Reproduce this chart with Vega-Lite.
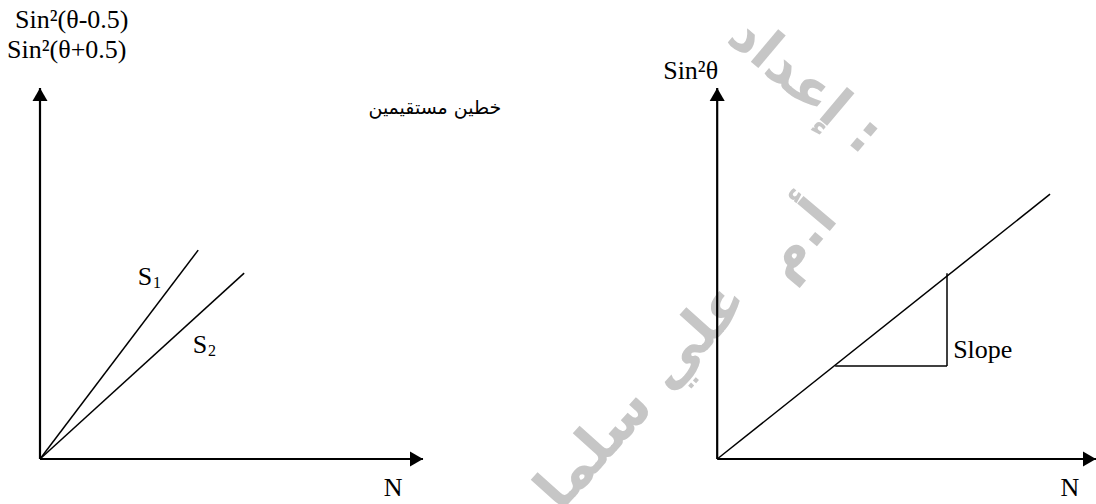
{
  "$schema": "https://vega.github.io/schema/vega-lite/v6.json",
  "autosize": {"type": "none"},
  "padding": {"left": 40, "top": 88, "right": 0, "bottom": 45},
  "width": 1056,
  "height": 371,
  "background": "white",
  "config": {
    "view": {"stroke": null},
    "text": {"font": "Liberation Serif", "fontSize": 26, "color": "black"}
  },
  "layer": [
    {
      "data": {"values": [{"x": 19.97, "y": 10.08, "label": "إعداد :"}]},
      "mark": {"type": "text", "align": "center", "baseline": "middle", "font": "DejaVu Sans", "fontWeight": "bold", "fontSize": 56, "angle": 40, "color": "#c6c6c6"},
      "encoding": {
        "x": {"field": "x", "type": "quantitative", "scale": {"domain": [0, 27.57], "nice": false, "zero": false}, "axis": null},
        "y": {"field": "y", "type": "quantitative", "scale": {"domain": [0, 10], "nice": false, "zero": false}, "axis": null},
        "text": {"field": "label"}
      }
    },
    {
      "data": {"values": [{"x": 19.84, "y": 5.9, "label": "أ.م"}]},
      "mark": {"type": "text", "align": "center", "baseline": "middle", "font": "DejaVu Sans", "fontWeight": "bold", "fontSize": 56, "angle": -50, "color": "#c6c6c6"},
      "encoding": {
        "x": {"field": "x", "type": "quantitative"},
        "y": {"field": "y", "type": "quantitative"},
        "text": {"field": "label"}
      }
    },
    {
      "data": {"values": [{"x": 15.3, "y": 1.2, "label": "علي سلمان"}]},
      "mark": {"type": "text", "align": "center", "baseline": "middle", "font": "DejaVu Sans", "fontWeight": "bold", "fontSize": 58, "angle": -48, "color": "#c6c6c6"},
      "encoding": {
        "x": {"field": "x", "type": "quantitative"},
        "y": {"field": "y", "type": "quantitative"},
        "text": {"field": "label"}
      }
    },
    {
      "data": {"values": [
        {"axis": "left N", "x": 0, "y": 0, "x2": 10, "y2": 0},
        {"axis": "left Sin²", "x": 0, "y": 0, "x2": 0, "y2": 10},
        {"axis": "right N", "x": 17.68, "y": 0, "x2": 27.57, "y2": 0},
        {"axis": "right Sin²θ", "x": 17.68, "y": 0, "x2": 17.68, "y2": 10}
      ]},
      "mark": {"type": "rule", "strokeWidth": 2.2, "color": "black"},
      "encoding": {
        "x": {"field": "x", "type": "quantitative"},
        "y": {"field": "y", "type": "quantitative"},
        "x2": {"field": "x2"},
        "y2": {"field": "y2"}
      }
    },
    {
      "data": {"values": [
        {"name": "S1", "x": 0, "y": 0, "x2": 4.13, "y2": 5.63},
        {"name": "S2", "x": 0, "y": 0, "x2": 5.33, "y2": 5.01},
        {"name": "Sin²θ vs N", "x": 17.68, "y": 0, "x2": 26.37, "y2": 7.14},
        {"name": "run", "x": 20.76, "y": 2.51, "x2": 23.68, "y2": 2.51},
        {"name": "rise", "x": 23.68, "y": 2.51, "x2": 23.68, "y2": 5.01}
      ]},
      "mark": {"type": "rule", "strokeWidth": 1.5, "color": "black"},
      "encoding": {
        "x": {"field": "x", "type": "quantitative"},
        "y": {"field": "y", "type": "quantitative"},
        "x2": {"field": "x2"},
        "y2": {"field": "y2"}
      }
    },
    {
      "data": {"values": [{"x": 10, "y": 0}, {"x": 27.57, "y": 0}]},
      "mark": {"type": "point", "shape": "triangle-right", "filled": true, "size": 225, "opacity": 1, "color": "black", "xOffset": -6.5},
      "encoding": {
        "x": {"field": "x", "type": "quantitative"},
        "y": {"field": "y", "type": "quantitative"}
      }
    },
    {
      "data": {"values": [{"x": 0, "y": 10}, {"x": 17.68, "y": 10}]},
      "mark": {"type": "point", "shape": "triangle-up", "filled": true, "size": 225, "opacity": 1, "color": "black", "yOffset": 6.5},
      "encoding": {
        "x": {"field": "x", "type": "quantitative"},
        "y": {"field": "y", "type": "quantitative"}
      }
    },
    {
      "data": {"values": [
        {"x": -0.65, "y": 11.83, "label": "Sin²(θ-0.5)"},
        {"x": -0.86, "y": 11.02, "label": "Sin²(θ+0.5)"},
        {"x": 16.27, "y": 10.46, "label": "Sin²θ"},
        {"x": 23.84, "y": 2.94, "label": "Slope"}
      ]},
      "mark": {"type": "text", "align": "left", "baseline": "middle"},
      "encoding": {
        "x": {"field": "x", "type": "quantitative"},
        "y": {"field": "y", "type": "quantitative"},
        "text": {"field": "label"}
      }
    },
    {
      "data": {"values": [
        {"x": 2.74, "y": 4.91, "label": "S"},
        {"x": 4.18, "y": 3.07, "label": "S"},
        {"x": 9.22, "y": -0.78, "label": "N"},
        {"x": 26.89, "y": -0.78, "label": "N"}
      ]},
      "mark": {"type": "text", "align": "center", "baseline": "middle"},
      "encoding": {
        "x": {"field": "x", "type": "quantitative"},
        "y": {"field": "y", "type": "quantitative"},
        "text": {"field": "label"}
      }
    },
    {
      "data": {"values": [
        {"x": 2.74, "y": 4.91, "label": "1"},
        {"x": 4.18, "y": 3.07, "label": "2"}
      ]},
      "mark": {"type": "text", "align": "left", "baseline": "middle", "fontSize": 16, "dx": 8, "dy": 6},
      "encoding": {
        "x": {"field": "x", "type": "quantitative"},
        "y": {"field": "y", "type": "quantitative"},
        "text": {"field": "label"}
      }
    },
    {
      "data": {"values": [{"x": 10.31, "y": 9.46, "label": "خطين مستقيمين"}]},
      "mark": {"type": "text", "align": "center", "baseline": "middle", "font": "DejaVu Sans", "fontSize": 19},
      "encoding": {
        "x": {"field": "x", "type": "quantitative"},
        "y": {"field": "y", "type": "quantitative"},
        "text": {"field": "label"}
      }
    }
  ]
}
